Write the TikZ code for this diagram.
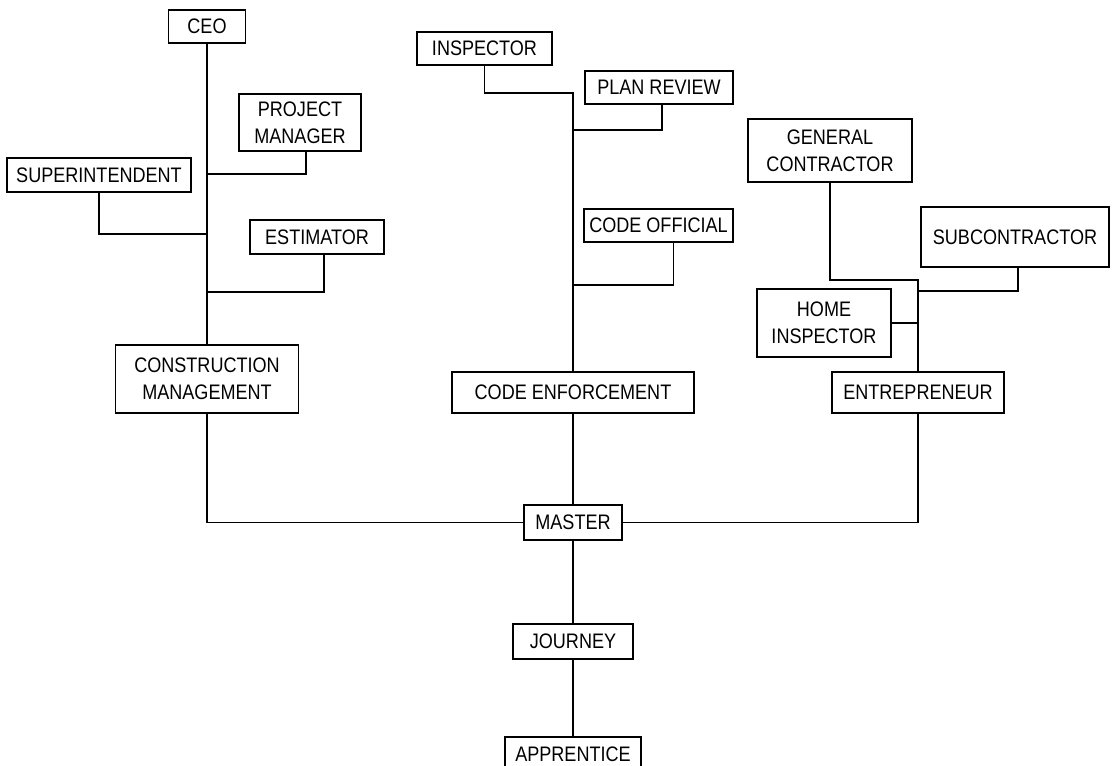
\documentclass[tikz,border=0pt]{standalone}
\usepackage{fontspec}
\setmainfont{Liberation Sans}[FakeStretch=0.86]
\begin{document}
\begin{tikzpicture}[x=1pt,y=-1pt,line width=1.6pt,
  box/.style={draw,fill=white,inner sep=0pt,align=center,font=\fontsize{21}{27}\selectfont}]
\useasboundingbox (0,0) rectangle (1117,766);
\node[box,minimum width=77pt,minimum height=33pt] (ceo) at (207,26.5) {CEO};
\node[box,minimum width=122pt,minimum height=57pt] (pm) at (300,122.5) {PROJECT\\MANAGER};
\node[box,minimum width=184pt,minimum height=34pt] (sup) at (99,175) {SUPERINTENDENT};
\node[box,minimum width=134pt,minimum height=34pt] (est) at (317,237) {ESTIMATOR};
\node[box,minimum width=183pt,minimum height=68pt] (cm) at (207,379) {CONSTRUCTION\\MANAGEMENT};
\node[box,minimum width=135pt,minimum height=33pt] (insp) at (484.5,48.5) {INSPECTOR};
\node[box,minimum width=148pt,minimum height=33pt] (plan) at (659,87.5) {PLAN REVIEW};
\node[box,minimum width=149pt,minimum height=33pt] (off) at (658.5,225.5) {CODE OFFICIAL};
\node[box,minimum width=242pt,minimum height=41pt] (ce) at (573,392.5) {CODE ENFORCEMENT};
\node[box,minimum width=164pt,minimum height=63pt] (gc) at (830,150.5) {GENERAL\\CONTRACTOR};
\node[box,minimum width=188pt,minimum height=60pt] (sub) at (1015,237) {SUBCONTRACTOR};
\node[box,minimum width=134pt,minimum height=68pt] (home) at (824,323) {HOME\\INSPECTOR};
\node[box,minimum width=172pt,minimum height=41pt] (ent) at (918,392.5) {ENTREPRENEUR};
\node[box,minimum width=98pt,minimum height=35pt] (master) at (573,522.5) {MASTER};
\node[box,minimum width=120pt,minimum height=35pt] (jour) at (573,641.5) {JOURNEY};
\node[box,minimum width=136pt,minimum height=35pt] (appr) at (573,754.5) {APPRENTICE};
\coordinate (pmj) at (207,174);
\coordinate (supj) at (207,234);
\coordinate (estj) at (207,292);
\coordinate (ctop) at (573,93);
\coordinate (planj) at (573,130);
\coordinate (offj) at (573,285);
\coordinate (etop) at (918,280);
\coordinate (subj) at (918,291);
\draw (ceo) -- (cm);
\draw ([xshift=6pt]pm.south) |- (pmj);
\draw (sup.south) |- (supj);
\draw ([xshift=7pt]est.south) |- (estj);
\draw (insp.south) |- (ctop) -- (ce.north);
\draw ([xshift=3pt]plan.south) |- (planj);
\draw ([xshift=15pt]off.south) |- (offj);
\draw (gc.south) |- (etop) -- (ent.north);
\draw ([xshift=3pt]sub.south) |- (subj);
\draw (home.east) -- (home.east -| ent);
\draw (cm.south) |- (master.west);
\draw (ent.south) |- (master.east);
\draw (ce) -- (master) -- (jour) -- (appr);
\end{tikzpicture}
\end{document}
